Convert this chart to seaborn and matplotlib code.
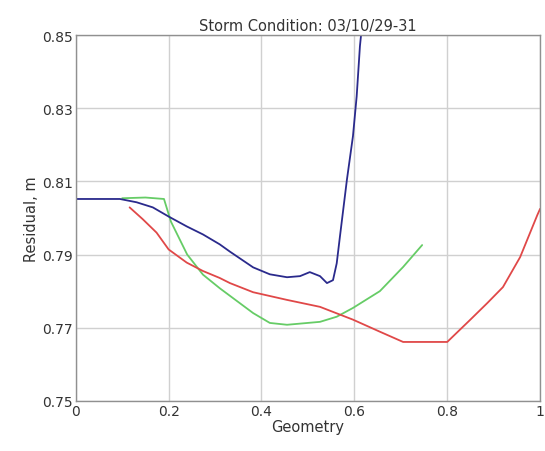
import numpy as np
import pandas as pd
import matplotlib
matplotlib.use('Agg')
import matplotlib.pyplot as plt
import seaborn as sns

sns.set_style('whitegrid')
plt.rcParams['font.family'] = ['DejaVu Sans']

blue_x = [0, 0.095, 0.131, 0.166, 0.2, 0.239, 0.274, 0.31, 0.332, 0.382, 0.418, 0.455,
          0.483, 0.504, 0.526, 0.541, 0.554, 0.562, 0.569, 0.584, 0.597, 0.605, 0.612, 0.616]
blue_y = [0.8052, 0.8052, 0.8043, 0.8029, 0.8004, 0.7977, 0.7955, 0.7928, 0.7908, 0.7865,
          0.7846, 0.7838, 0.7841, 0.7852, 0.7841, 0.7822, 0.7830, 0.7876, 0.7950, 0.8105,
          0.8224, 0.8333, 0.847, 0.852]

red_x = [0.116, 0.144, 0.174, 0.2, 0.239, 0.274, 0.31, 0.332, 0.382, 0.455, 0.526,
         0.597, 0.655, 0.705, 0.8, 0.849, 0.886, 0.92, 0.957, 0.994, 1.0]
red_y = [0.8029, 0.7997, 0.7960, 0.7914, 0.7878, 0.7855, 0.7836, 0.7822, 0.7797, 0.7776,
         0.7757, 0.7722, 0.7689, 0.7661, 0.7661, 0.7721, 0.7767, 0.7811, 0.7893, 0.8008,
         0.8025]

green_x = [0.1, 0.15, 0.19, 0.205, 0.24, 0.274, 0.31, 0.382, 0.418, 0.455, 0.526,
           0.562, 0.597, 0.655, 0.705, 0.746]
green_y = [0.8054, 0.8056, 0.8052, 0.7990, 0.7900, 0.7845, 0.7808, 0.7740, 0.7713, 0.7708,
           0.7716, 0.7730, 0.7754, 0.7800, 0.7866, 0.7926]

fig = plt.figure(figsize=(5.45, 4.52), dpi=100)
ax = fig.add_axes([0.139, 0.111, 0.852, 0.809])

sns.lineplot(x=green_x, y=green_y, ax=ax, color='#66cc66', lw=1.3, estimator=None, sort=False)
sns.lineplot(x=red_x, y=red_y, ax=ax, color='#e04848', lw=1.3, estimator=None, sort=False)
sns.lineplot(x=blue_x, y=blue_y, ax=ax, color='#2a2a8c', lw=1.3, estimator=None, sort=False)

ax.set_xlim(0, 1)
ax.set_ylim(0.75, 0.85)
ax.set_xticks([0, 0.2, 0.4, 0.6, 0.8, 1])
ax.set_xticklabels(['0', '0.2', '0.4', '0.6', '0.8', '1'])
ax.set_yticks([0.75, 0.77, 0.79, 0.81, 0.83, 0.85])
ax.set_yticklabels(['0.75', '0.77', '0.79', '0.81', '0.83', '0.85'])
ax.grid(True, color='#d0d0d0', lw=1)
for s in ax.spines.values():
    s.set_color('#909090')
    s.set_linewidth(1)
ax.tick_params(labelsize=10, colors='#333333', length=0, pad=2)
ax.set_title('Storm Condition: 03/10/29-31', fontsize=10.5, color='#333333', pad=4)
ax.set_xlabel('Geometry', fontsize=10.5, color='#333333', labelpad=1)
ax.set_ylabel('Residual, m', fontsize=10.5, color='#333333', labelpad=2)

plt.savefig('out.png', dpi=100)
plt.close()
